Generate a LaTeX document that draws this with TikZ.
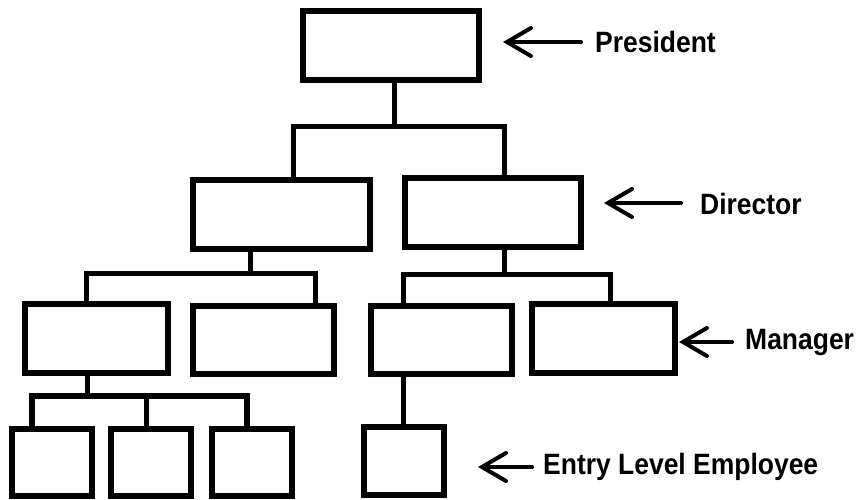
\documentclass[tikz,border=0pt]{standalone}
\usepackage{fontspec}
\setmainfont{Liberation Sans}[FakeStretch=0.9]
\usetikzlibrary{arrows.meta}
\begin{document}
\begin{tikzpicture}[x=1pt,y=-1pt,
  post/.style={draw=black,line width=6pt,fill=white,inner sep=0pt,outer sep=0pt},
  wire/.style={draw=black,line width=5pt,line join=miter},
  pointer/.style={draw=black,line width=4pt,line cap=round,
    -{Straight Barb[length=24pt,width=28pt,line cap=round]}},
  rank/.style={font=\bfseries\fontsize{29.4}{30}\selectfont,anchor=west,inner sep=0pt}]
\useasboundingbox (0,0) rectangle (856,500);

% boxes, one per position
\node[post,minimum width=176pt,minimum height=69pt] (P)  at (391,45.5) {};
\node[post,minimum width=177pt,minimum height=69pt] (D1) at (281.5,214.5) {};
\node[post,minimum width=176pt,minimum height=69pt] (D2) at (493,212.5) {};
\node[post,minimum width=143pt,minimum height=69pt] (M1) at (96.5,338.5) {};
\node[post,minimum width=141pt,minimum height=68pt] (M2) at (263.5,340) {};
\node[post,minimum width=141pt,minimum height=68pt] (M3) at (441.5,340) {};
\node[post,minimum width=143pt,minimum height=69pt] (M4) at (603.5,338.5) {};
\node[post,minimum width=80pt,minimum height=67pt] (E1) at (52,462.5) {};
\node[post,minimum width=80pt,minimum height=67pt] (E2) at (151,462.5) {};
\node[post,minimum width=80pt,minimum height=67pt] (E3) at (252,462.5) {};
\node[post,minimum width=80pt,minimum height=68pt] (E4) at (404,461) {};

% junction points of the tree
\coordinate (jP)  at (394,127);
\coordinate (jPl) at (293,127);
\coordinate (jPr) at (504,127);
\coordinate (jA)  at (250,273);
\coordinate (jAl) at (86,273);
\coordinate (jAr) at (315,273);
\coordinate (jB)  at (504,274);
\coordinate (jBl) at (403,274);
\coordinate (jBr) at (610,274);
\coordinate (jC)  at (87,396);
\coordinate (jCl) at (32,396);
\coordinate (jCm) at (146,396);
\coordinate (jCr) at (247,396);

% president to directors
\draw[wire] (P.south -| jP) -- (jP);
\draw[wire] (D1.north -| jPl) -- (jPl) -- (jPr) -- (D2.north -| jPr);
% left director to managers
\draw[wire] (D1.south -| jA) -- (jA);
\draw[wire] (M1.north -| jAl) -- (jAl) -- (jAr) -- (M2.north -| jAr);
% right director to managers
\draw[wire] (D2.south -| jB) -- (jB);
\draw[wire] (M3.north -| jBl) -- (jBl) -- (jBr) -- (M4.north -| jBr);
% first manager to employees
\draw[wire] (M1.south -| jC) -- (jC);
\draw[wire,line width=6pt] (E1.north -| jCl) -- (jCl) -- (jCr) -- (E3.north -| jCr);
\draw[wire] (jCm) -- (E2.north -| jCm);
% third manager to employee
\draw[wire] (M3.south -| jBl) -- (E4.north -| jBl);

% rank labels
\node[rank] (lP) at (595,42)  {President};
\node[rank] (lD) at (700,204) {Director};
\node[rank] (lM) at (745,342) {Manager};
\node[rank] (lE) at (543,467) {Entry Level Employee};

% pointer arrows
\coordinate (tP) at (503,42);
\coordinate (tD) at (604,203);
\coordinate (tM) at (679,342);
\coordinate (tE) at (478,467);
\draw[pointer] (lP.west |- tP) ++(-14,0) -- (tP);
\draw[pointer] (lD.west |- tD) ++(-19,0) -- (tD);
\draw[pointer] (lM.west |- tM) ++(-13,0) -- (tM);
\draw[pointer] (lE.west |- tE) ++(-11,0) -- (tE);
\end{tikzpicture}
\end{document}
